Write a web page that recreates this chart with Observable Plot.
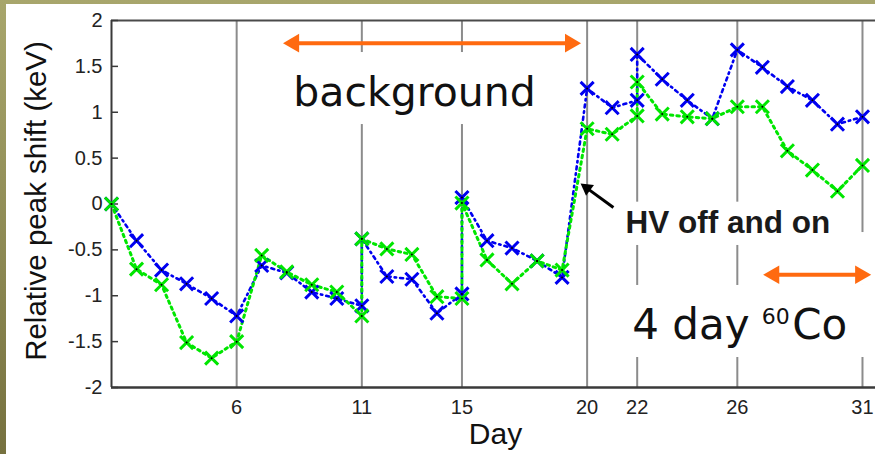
<!DOCTYPE html>
<html><head><meta charset="utf-8">
<script src="https://cdn.jsdelivr.net/npm/d3@7"></script>
<script src="https://cdn.jsdelivr.net/npm/@observablehq/plot@0.6"></script>
<style>
html,body{margin:0;padding:0;background:#fff;}
#frame{position:relative;width:875px;height:454px;overflow:hidden;background:linear-gradient(to bottom,#a8a66c,#76713f);}
#inner{position:absolute;left:6px;top:4px;width:869px;height:450px;background:#fff;}
#inner svg{display:block;}
</style></head><body><div id="frame"><div id="inner"></div></div>
<script>
// ---- data ----
const days = [1,2,3,4,5,6,7,8,9,10,11,11,12,13,14,15,15,16,17,18,19,20,21,22,22,23,24,25,26,27,28,29,30,31];
const blueShift = [0,-0.40,-0.72,-0.87,-1.03,-1.22,-0.67,-0.75,-0.96,-1.03,-1.11,-0.38,-0.79,-0.82,-1.19,-0.98,0.07,-0.40,-0.48,-0.62,-0.80,1.26,1.05,1.13,1.63,1.36,1.13,0.93,1.68,1.49,1.28,1.13,0.87,0.95];
const greenShift = [0,-0.71,-0.88,-1.51,-1.68,-1.50,-0.56,-0.74,-0.88,-0.96,-1.22,-0.38,-0.49,-0.55,-1.01,-1.03,0.01,-0.61,-0.87,-0.62,-0.72,0.82,0.76,0.96,1.33,0.98,0.95,0.93,1.06,1.06,0.58,0.37,0.14,0.42];
const gridDays = [6,11,15,20,22,26,31];
const yTicks = [-2,-1.5,-1,-0.5,0,0.5,1,1.5,2];

// annotation boxes (white backgrounds hiding grid lines)
const boxX1 = [8.0, 21.1, 21.3, 26.5];
const boxX2 = [18.6, 30.1, 31.6, 31.6];
const boxY1 = [0.866, -0.452, -1.673, -0.888];
const boxY2 = [1.651, 0.02, -0.888, -0.311];

// orange double arrows: shaft start/end day, value, head centers
const oArrowX1 = [8.15, 27.33];
const oArrowX2 = [19.53, 31.12];
const oArrowY = [1.753, -0.772];
const oHeadLeft = [8.28, 27.46];
const oHeadRight = [19.33, 30.92];

// black arrow
const bArrowTail = [21.05, -0.038];
const bArrowHead = [19.99, 0.173];

// annotation texts
const annText = ["background", "HV off and on", "4 day", "60", "Co"];
const annX = [8.26, 21.53, 21.80, 26.98, 28.19];
const annY = [1.063, -0.32, -1.469, -1.313, -1.469];
const annSize = [41, 31.5, 42, 22, 42];

// ---- build ----
const blue = days.map((d,i)=>({day:d, v:blueShift[i]}));
const green = days.map((d,i)=>({day:d, v:greenShift[i]}));
const boxes = boxX1.map((x,i)=>({x1:x, x2:boxX2[i], y1:boxY1[i], y2:boxY2[i]}));
const oArrows = oArrowX1.map((x,i)=>({x1:x, x2:oArrowX2[i], y:oArrowY[i], hl:oHeadLeft[i], hr:oHeadRight[i]}));
const ann = annText.map((t,i)=>({t, x:annX[i], y:annY[i], s:annSize[i]}));
const ORANGE = "#ff6a10";
const annFont = "DejaVu Sans";
const axisFont = "Liberation Sans, Arial, sans-serif";

const chart = Plot.plot({
  width: 869, height: 450,
  marginLeft: 105, marginRight: 0, marginTop: 16, marginBottom: 67,
  style: {fontFamily: axisFont, background: "transparent", overflow: "visible"},
  x: {domain: [1, 31.52], axis: null},
  y: {domain: [-2, 2], axis: null},
  marks: [
    Plot.ruleX(gridDays, {stroke: "#8c8c8c", strokeWidth: 2}),
    Plot.rect(boxes, {x1: "x1", x2: "x2", y1: "y1", y2: "y2", fill: "white"}),
    Plot.ruleY([2], {stroke: "#4a4a4a", strokeWidth: 2}),
    Plot.ruleY([-2], {stroke: "#3a3a3a", strokeWidth: 2.5}),
    Plot.ruleX([1], {stroke: "#3a3a3a", strokeWidth: 2}),
    Plot.ruleY(yTicks, {x1: 1, x2: 1.28, stroke: "#3a3a3a", strokeWidth: 1.5}),
    Plot.text(yTicks, {x: 1, y: d => d, text: d => String(d), textAnchor: "end", dx: -9, fontSize: 20, fill: "#222"}),
    Plot.text(gridDays, {x: d => d, y: -2, text: d => String(d), lineAnchor: "top", dy: 12, fontSize: 20, fill: "#222"}),
    Plot.text(["Relative peak shift (keV)"], {frameAnchor: "left", dx: -75, dy: -3, rotate: -90, fontSize: 29.5, fill: "#111", textAnchor: "middle"}),
    Plot.text(["Day"], {frameAnchor: "bottom", dy: 56, dx: 2, fontSize: 30, fill: "#111"}),
    Plot.line(blue, {x: "day", y: "v", stroke: "#0000f0", strokeWidth: 2.6, strokeDasharray: "3,4,1.5,4"}),
    Plot.line(green, {x: "day", y: "v", stroke: "#00e600", strokeWidth: 3, strokeDasharray: "2.5,4"}),
    Plot.dot(blue, {x: "day", y: "v", symbol: "times", r: 6, stroke: "#0000f0", strokeWidth: 3}),
    Plot.dot(green, {x: "day", y: "v", symbol: "times", r: 6, stroke: "#00e600", strokeWidth: 3}),
    Plot.dot(blue, {x: "day", y: "v", r: 1, fill: "black"}),
    Plot.dot(green, {x: "day", y: "v", r: 1, fill: "black"}),
    Plot.link(oArrows, {x1: "x1", x2: "x2", y1: "y", y2: "y", stroke: ORANGE, strokeWidth: 4}),
    Plot.dot(oArrows, {x: "hl", y: "y", symbol: "triangle", r: 6.9, rotate: -90, fill: ORANGE}),
    Plot.dot(oArrows, {x: "hr", y: "y", symbol: "triangle", r: 6.9, rotate: 90, fill: ORANGE}),
    Plot.link([0], {x1: bArrowTail[0], y1: bArrowTail[1], x2: bArrowHead[0], y2: bArrowHead[1], stroke: "black", strokeWidth: 3}),
    Plot.dot([0], {x: bArrowHead[0], y: bArrowHead[1], symbol: "triangle", r: 5, rotate: -54, fill: "black"}),
    Plot.text(ann.filter(d => d.t === "HV off and on"), {x: "x", y: "y", text: "t", fontSize: d => d.s, textAnchor: "start", lineAnchor: "bottom", fill: "#1a1a1a", fontWeight: "bold"}),
    Plot.text(ann.filter(d => d.t !== "HV off and on"), {x: "x", y: "y", text: "t", fontSize: d => d.s, textAnchor: "start", lineAnchor: "bottom", fill: "#111", fontFamily: annFont})
  ]
});
document.getElementById("inner").appendChild(chart);
</script>
</body></html>
